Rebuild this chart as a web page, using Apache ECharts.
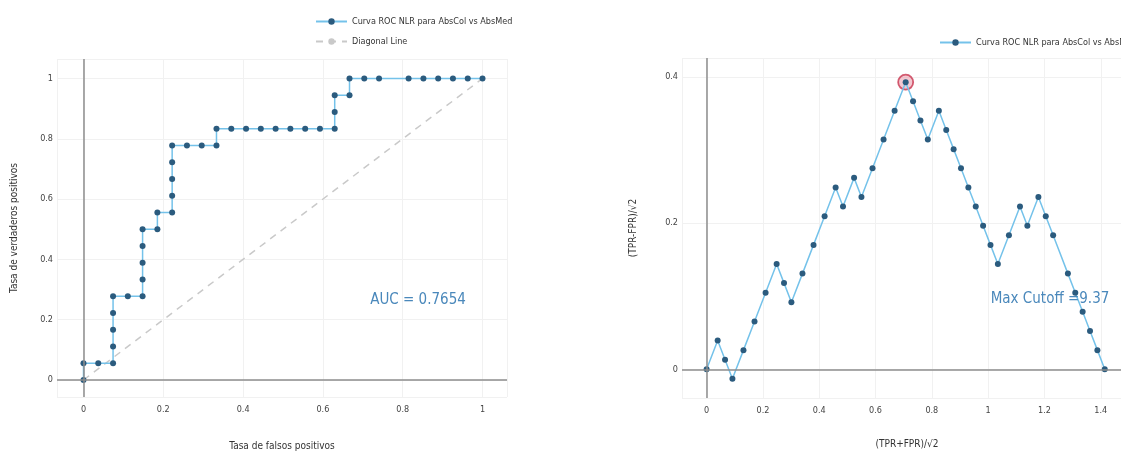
<!DOCTYPE html>
<html><head><meta charset="utf-8">
<script src="https://cdn.jsdelivr.net/npm/echarts@6/dist/echarts.min.js"></script>
<style>html,body{margin:0;padding:0;background:#fff;}#c{width:1121px;height:462px;}</style>
</head><body><div id="c"></div>
<script>
// ROC curve (left)
const fprValues = [0,0,0.037,0.0741,0.0741,0.0741,0.0741,0.0741,0.1111,0.1481,0.1481,0.1481,0.1481,0.1481,0.1852,0.1852,0.2222,0.2222,0.2222,0.2222,0.2222,0.2593,0.2963,0.3333,0.3333,0.3704,0.4074,0.4444,0.4815,0.5185,0.5556,0.5926,0.6296,0.6296,0.6296,0.6667,0.6667,0.7037,0.7407,0.8148,0.8519,0.8889,0.9259,0.963,1];
const tprValues = [0,0.0556,0.0556,0.0556,0.1111,0.1667,0.2222,0.2778,0.2778,0.2778,0.3333,0.3889,0.4444,0.5,0.5,0.5556,0.5556,0.6111,0.6667,0.7222,0.7778,0.7778,0.7778,0.7778,0.8333,0.8333,0.8333,0.8333,0.8333,0.8333,0.8333,0.8333,0.8333,0.8889,0.9444,0.9444,1,1,1,1,1,1,1,1,1];
const diagX = [0,1];
const diagY = [0,1];
// Rotated curve (right)
const rotX = [0,0.0393,0.0655,0.0917,0.1309,0.1702,0.2095,0.2488,0.275,0.3012,0.3405,0.3798,0.4191,0.4583,0.4845,0.5238,0.55,0.5893,0.6286,0.6678,0.7071,0.7333,0.7595,0.7857,0.825,0.8512,0.8774,0.9036,0.9298,0.956,0.9821,1.0083,1.0345,1.0738,1.1131,1.1393,1.1785,1.2047,1.2309,1.2833,1.3095,1.3357,1.3619,1.3881,1.4142];
const rotY = [0,0.0393,0.0131,-0.0131,0.0262,0.0655,0.1047,0.144,0.1179,0.0917,0.1309,0.1702,0.2095,0.2488,0.2226,0.2619,0.2357,0.275,0.3143,0.3536,0.3928,0.3667,0.3405,0.3143,0.3536,0.3274,0.3012,0.275,0.2488,0.2226,0.1964,0.1702,0.144,0.1833,0.2226,0.1964,0.2357,0.2095,0.1833,0.1309,0.1047,0.0786,0.0524,0.0262,0];
const peakX = [0.7071];
const peakY = [0.3928];
const rocName = 'Curva ROC NLR para AbsCol vs AbsMed';
const diagName = 'Diagonal Line';
const aucText = 'AUC = 0.7654';
const cutoffText = 'Max Cutoff =9.37';

const FONT = "'Liberation Sans Narrow','DejaVu Sans Condensed','Roboto Condensed','Liberation Sans',sans-serif";
const zip = (a, b) => a.map((v, i) => [v, b[i]]);
const tickFmt = v => {
  const r = Math.round(v / 0.2);
  return Math.abs(v / 0.2 - r) < 1e-6 ? String(+(r * 0.2).toFixed(1)) : '';
};
const lineColor = '#74c2ea';
const markColor = '#2b5b7e';
const zeroLine = {
  silent: true, symbol: ['none', 'none'], animation: false,
  label: {show: false},
  lineStyle: {color: '#8c8c8c', width: 1.5, type: 'solid'},
  data: [{xAxis: 0}, {yAxis: 0}]
};
function axisBase(extra, margin) {
  return Object.assign({
    type: 'value',
    minInterval: 0.2, maxInterval: 0.2,
    axisLine: {show: false}, axisTick: {show: false},
    splitLine: {show: true, lineStyle: {color: '#f1f1f1', width: 1}},
    axisLabel: {formatter: tickFmt, fontFamily: FONT, fontSize: 9, color: '#444', margin: margin},
    nameLocation: 'middle',
    nameTextStyle: {fontFamily: FONT, fontSize: 10, color: '#333'}
  }, extra);
}

const chart = echarts.init(document.getElementById('c'));
chart.setOption({
  animation: false,
  backgroundColor: '#fff',
  grid: [
    {left: 57, top: 59, width: 450, height: 338, outerBoundsMode: 'none', containLabel: false},
    {left: 682, top: 58, width: 450, height: 340, outerBoundsMode: 'none', containLabel: false}
  ],
  xAxis: [
    axisBase({gridIndex: 0, min: -0.0664, max: 1.0614, name: 'Tasa de falsos positivos', nameGap: 44}, 8),
    axisBase({gridIndex: 1, min: -0.0874, max: 1.511, name: '(TPR+FPR)/\u221A2', nameGap: 41}, 8)
  ],
  yAxis: [
    axisBase({gridIndex: 0, min: -0.0564, max: 1.0647, name: 'Tasa de verdaderos positivos', nameGap: 38}, 4),
    axisBase({gridIndex: 1, min: -0.0393, max: 0.4259, name: '(TPR-FPR)/\u221A2', nameGap: 44}, 4)
  ],
  legend: [
    {orient: 'vertical', left: 310, top: 12, itemWidth: 31, itemHeight: 8, itemGap: 11,
     textStyle: {fontFamily: FONT, fontSize: 9, color: '#333'}, data: [rocName, diagName]},
    {orient: 'vertical', left: 934, top: 33, itemWidth: 31, itemHeight: 8,
     textStyle: {fontFamily: FONT, fontSize: 9, color: '#333'}, data: [rocName]}
  ],
  series: [
    {name: diagName, type: 'line', xAxisIndex: 0, yAxisIndex: 0, data: zip(diagX, diagY),
     symbol: 'none', lineStyle: {color: '#c9c9c9', width: 1.5, type: [7, 6]}, itemStyle: {color: '#c9c9c9'},
     markLine: zeroLine, z: 1},
    {name: rocName, type: 'line', xAxisIndex: 0, yAxisIndex: 0, data: zip(fprValues, tprValues),
     symbol: 'circle', symbolSize: 6, showAllSymbol: true,
     lineStyle: {color: lineColor, width: 1.5}, itemStyle: {color: markColor}, z: 3},
    {name: 'peak', type: 'scatter', xAxisIndex: 1, yAxisIndex: 1, data: zip(peakX, peakY),
     symbol: 'circle', symbolSize: 15,
     itemStyle: {color: 'rgba(228,130,150,0.55)', borderColor: '#c8354f', borderWidth: 1.8},
     markLine: zeroLine, z: 1},
    {name: rocName, type: 'line', xAxisIndex: 1, yAxisIndex: 1, data: zip(rotX, rotY),
     symbol: 'circle', symbolSize: 6, showAllSymbol: true,
     lineStyle: {color: lineColor, width: 1.5}, itemStyle: {color: markColor}, z: 3}
  ],
  graphic: [
    {type: 'text', x: 418, y: 300, z: 10,
     style: {text: aucText, fill: '#4a88bb', fontSize: 15, fontFamily: FONT, align: 'center', verticalAlign: 'middle'}},
    {type: 'text', x: 1050, y: 299, z: 10,
     style: {text: cutoffText, fill: '#4a88bb', fontSize: 15, fontFamily: FONT, align: 'center', verticalAlign: 'middle'}}
  ]
});
</script></body></html>
